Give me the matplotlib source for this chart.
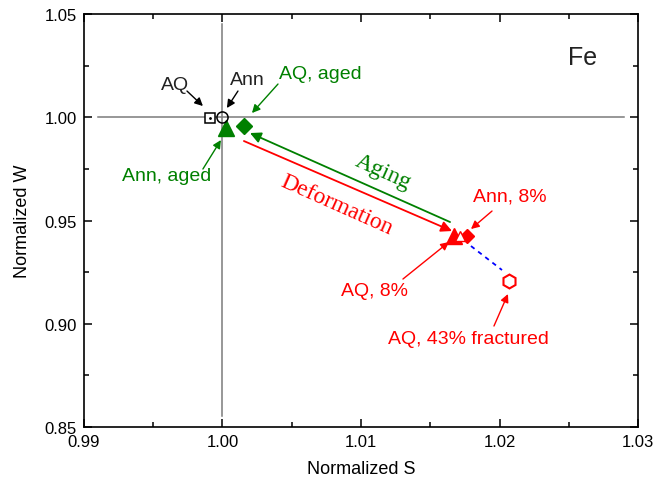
import matplotlib
matplotlib.use("Agg")
import matplotlib.pyplot as plt
from matplotlib.ticker import MultipleLocator, FormatStrFormatter

plt.rcParams['font.family'] = ['Liberation Sans', 'DejaVu Sans']

# normalized S / W for each sample
aq_s, aq_w = [0.9991], [0.9996]
ann_s, ann_w = [1.0000], [1.0000]
ann_aged_s, ann_aged_w = [1.00025], [0.9947]
aq_aged_s, aq_aged_w = [1.00155], [0.9960]
aq8_s, aq8_w = [1.0167], [0.9425]
ann8_s, ann8_w = [1.01765], [0.9425]
ann8_open_s, ann8_open_w = [1.01715], [0.9425]
aq43_s, aq43_w = [1.02069], [0.9209]
trend_s = [1.01794, 1.02018]
trend_w = [0.93765, 0.92603]

green = '#008000'
red = '#ff0000'

fig = plt.figure(figsize=(6.66, 4.85), dpi=100)
ax = fig.add_axes([0.126, 0.1175, 0.832, 0.8515])

# reference cross lines
ax.plot([0.991, 1.029], [1.0, 1.0], color='#7a7a7a', lw=1.1, zorder=1)
ax.plot([1.0, 1.0], [0.8553, 1.0452], color='#7a7a7a', lw=1.1, zorder=1)

ax.plot(trend_s, trend_w, ls=(0, (2.5, 2.5)), color='#0000ff', lw=1.3, zorder=2)

ax.plot(aq_s, aq_w, 's', mfc='white', mec='k', ms=7, mew=1.1, zorder=4)
ax.plot(aq_s, aq_w, '.', color='k', ms=2, zorder=5)
ax.plot(ann_s, ann_w, 'o', mfc='none', mec='k', ms=8, mew=1.1, zorder=4)
ax.plot(ann_aged_s, ann_aged_w, '^', color=green, ms=11, zorder=3)
ax.plot(aq_aged_s, aq_aged_w, 'D', color=green, ms=8, zorder=3)
ax.plot(aq8_s, aq8_w, '^', color=red, ms=11, zorder=3)
ax.plot(ann8_s, ann8_w, 'D', color=red, ms=7.5, zorder=3)
ax.plot(ann8_open_s, ann8_open_w, '^', mfc='white', mec=red, ms=7, mew=1, zorder=4)
ax.plot(aq43_s, aq43_w, 'h', mfc='white', mec=red, ms=10, mew=1.5, zorder=4)

def arrow(tail, tip, c, lw=1.0, ms=12):
    ax.annotate('', xy=tip, xytext=tail,
                arrowprops=dict(arrowstyle='-|>', color=c, lw=lw,
                                mutation_scale=ms, shrinkA=0, shrinkB=0))

# labels
ax.text(0.99657, 1.0161, 'AQ', fontsize=14, color='#222222', ha='center', va='center')
arrow((0.99744, 1.01271), (0.99859, 1.00545), 'k')
ax.text(1.00177, 1.01852, 'Ann', fontsize=14, color='#222222', ha='center', va='center')
arrow((1.00112, 1.01271), (1.00032, 1.00448), 'k')
ax.text(1.00704, 1.02143, 'AQ, aged', fontsize=14, color=green, ha='center', va='center')
arrow((1.00401, 1.0161), (1.00213, 1.00206), green)
ax.text(0.99599, 0.97203, 'Ann, aged', fontsize=14, color=green, ha='center', va='center')
arrow((0.99859, 0.97494), (0.99989, 0.98898), green)
ax.text(1.02076, 0.96186, 'Ann, 8%', fontsize=14, color=red, ha='center', va='center')
arrow((1.01946, 0.9546), (1.01794, 0.94588), red)
ax.text(1.01101, 0.91634, 'AQ, 8%', fontsize=14, color=red, ha='center', va='center')
arrow((1.01303, 0.92167), (1.01635, 0.93959), red)
ax.text(1.01773, 0.8931, 'AQ, 43% fractured', fontsize=14, color=red, ha='center', va='center')
arrow((1.0196, 0.89891), (1.02061, 0.91441), red)

# process arrows
arrow((1.00155, 0.9885), (1.01657, 0.94492), red, lw=1.3, ms=16)
arrow((1.01643, 0.94927), (1.00199, 0.99237), green, lw=1.3, ms=16)
ax.text(1.01159, 0.97397, 'Aging', fontsize=17, color=green, family='Liberation Serif',
        rotation=-24, ha='center', va='center', rotation_mode='anchor')
ax.text(1.00827, 0.95799, 'Deformation', fontsize=17, color=red, family='Liberation Serif',
        rotation=-24, ha='center', va='center', rotation_mode='anchor')

ax.text(1.02596, 1.02918, 'Fe', fontsize=18, color='#222222', ha='center', va='center')

ax.set_xlim(0.99, 1.03)
ax.set_ylim(0.85, 1.05)
ax.xaxis.set_major_locator(MultipleLocator(0.01))
ax.xaxis.set_minor_locator(MultipleLocator(0.005))
ax.yaxis.set_major_locator(MultipleLocator(0.05))
ax.yaxis.set_minor_locator(MultipleLocator(0.025))
ax.xaxis.set_major_formatter(FormatStrFormatter('%.2f'))
ax.yaxis.set_major_formatter(FormatStrFormatter('%.2f'))
ax.tick_params(which='both', direction='in', top=True, right=True, width=1.1, labelsize=12, pad=5)
ax.tick_params(which='major', length=6)
ax.tick_params(which='minor', length=3.5)
for s in ax.spines.values():
    s.set_linewidth(1.2)

ax.set_xlabel('Normalized S', fontsize=13, labelpad=8)
ax.set_ylabel('Normalized W', fontsize=13, labelpad=10)

fig.savefig('out.png', dpi=100)
